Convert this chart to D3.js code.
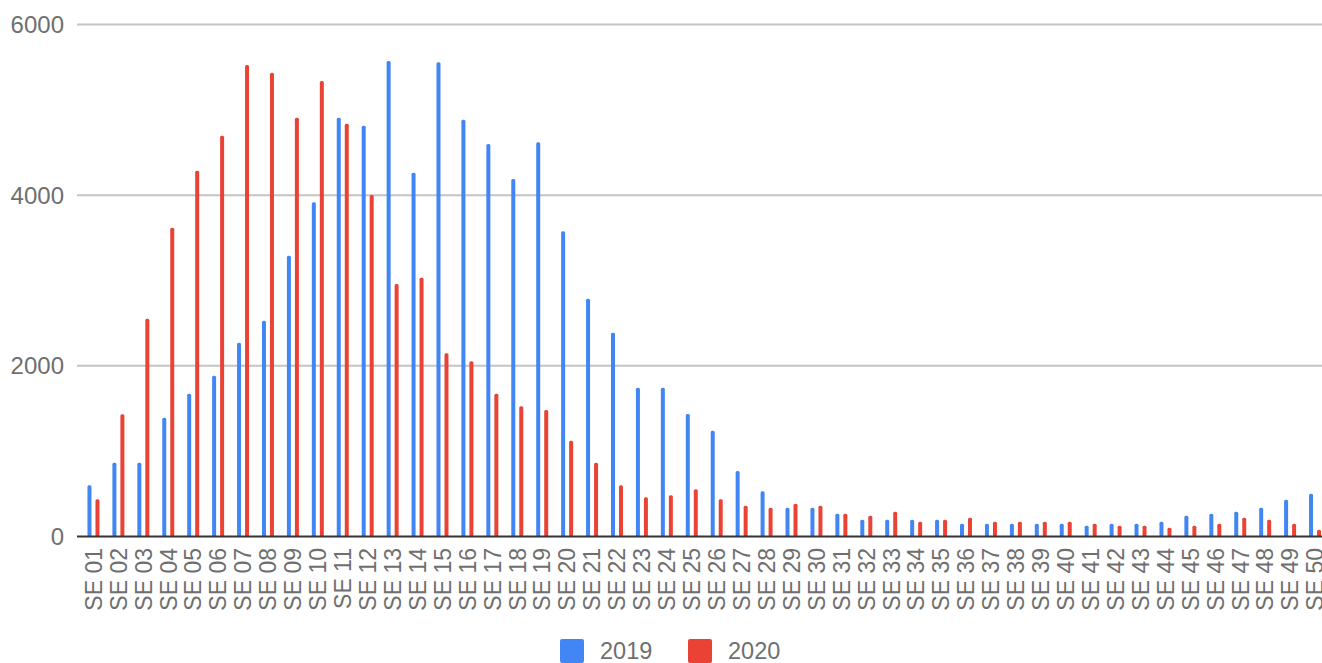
<!DOCTYPE html>
<html>
<head>
<meta charset="utf-8">
<script src="https://cdn.jsdelivr.net/npm/d3@7"></script>
<style>
  body { margin: 0; background: #fff; }
  text { font-family: "Liberation Sans", Arial, sans-serif; fill: #6f6f6f; }
</style>
</head>
<body>
<div id="chart"></div>
<script>
var w = 1322;
var h = 663;

var weeks = [];
for (var i = 1; i <= 50; i++) weeks.push("SE " + (i < 10 ? "0" + i : "" + i));

var series = ["2019", "2020"];
var colors = ["#4285F4", "#EA4335"];

var values2019 = [600, 865, 865, 1393, 1674, 1885, 2271, 2529, 3291, 3917,
                  4908, 4814, 5572, 4264, 5557, 4885, 4600, 4190, 4620, 3577,
                  2787, 2389, 1744, 1744, 1436, 1240, 768, 530, 338, 338,
                  267, 197, 197, 197, 197, 150, 150, 150, 150, 150,
                  127, 150, 150, 173, 244, 267, 291, 338, 431, 502];
var values2020 = [436, 1432, 2553, 3619, 4287, 4697, 5526, 5436, 4908, 5338,
                  4838, 4002, 2959, 3033, 2147, 2053, 1674, 1526, 1482, 1123,
                  865, 600, 459, 483, 553, 436, 361, 338, 384, 361,
                  267, 244, 291, 173, 197, 220, 173, 173, 173, 173,
                  150, 127, 127, 103, 127, 150, 220, 197, 150, 80];
var yTicks = [0, 2000, 4000, 6000];

var svg = d3.select("#chart").append("svg")
  .attr("width", w)
  .attr("height", h);

var x = d3.scaleBand().domain(weeks).range([81, 1327.5]);
var xSub = d3.scalePoint().domain(series).range([-4, 4]);
var y = d3.scaleLinear().domain([0, 6000]).range([536.5, 24.5]);

// gridlines
svg.selectAll("line.grid")
  .data(yTicks.filter(function(d) { return d > 0; }))
  .enter()
  .append("line")
  .attr("x1", 77)
  .attr("x2", w)
  .attr("y1", function(d) { return y(d); })
  .attr("y2", function(d) { return y(d); })
  .attr("stroke", "#c4c4c4")
  .attr("stroke-width", 2);

svg.selectAll("text.ytick")
  .data(yTicks)
  .enter()
  .append("text")
  .attr("x", 64)
  .attr("y", function(d) { return y(d); })
  .attr("dy", "0.36em")
  .attr("text-anchor", "end")
  .style("font-size", "24px")
  .text(function(d) { return d; });

// bars
series.forEach(function(s, si) {
  var vals = si === 0 ? values2019 : values2020;
  svg.append("g").selectAll("rect")
    .data(vals)
    .enter()
    .append("rect")
    .attr("x", function(d, i) { return x(weeks[i]) + x.bandwidth() / 2 + xSub(s) - 2; })
    .attr("width", 4)
    .attr("y", function(d) { return y(d); })
    .attr("height", function(d) { return y(0) - y(d); })
    .attr("rx", 1.5)
    .attr("fill", colors[si]);
});

// baseline
svg.append("line")
  .attr("x1", 77)
  .attr("x2", w)
  .attr("y1", y(0))
  .attr("y2", y(0))
  .attr("stroke", "#333")
  .attr("stroke-width", 2);

// x labels
svg.selectAll("text.xtick")
  .data(weeks)
  .enter()
  .append("text")
  .attr("transform", function(d) {
    return "translate(" + (x(d) + x.bandwidth() / 2) + ",548) rotate(-90)";
  })
  .attr("dy", "0.36em")
  .attr("text-anchor", "end")
  .style("font-size", "23px")
  .text(function(d) { return d; });

// legend
var legendX = [560, 688];
series.forEach(function(s, si) {
  svg.append("rect")
    .attr("x", legendX[si])
    .attr("y", 639)
    .attr("width", 24)
    .attr("height", 24)
    .attr("rx", 2)
    .attr("fill", colors[si]);
  svg.append("text")
    .attr("x", legendX[si] + 40)
    .attr("y", 650.5)
    .attr("dy", "0.36em")
    .style("font-size", "23.5px")
    .text(s);
});
</script>
</body>
</html>
